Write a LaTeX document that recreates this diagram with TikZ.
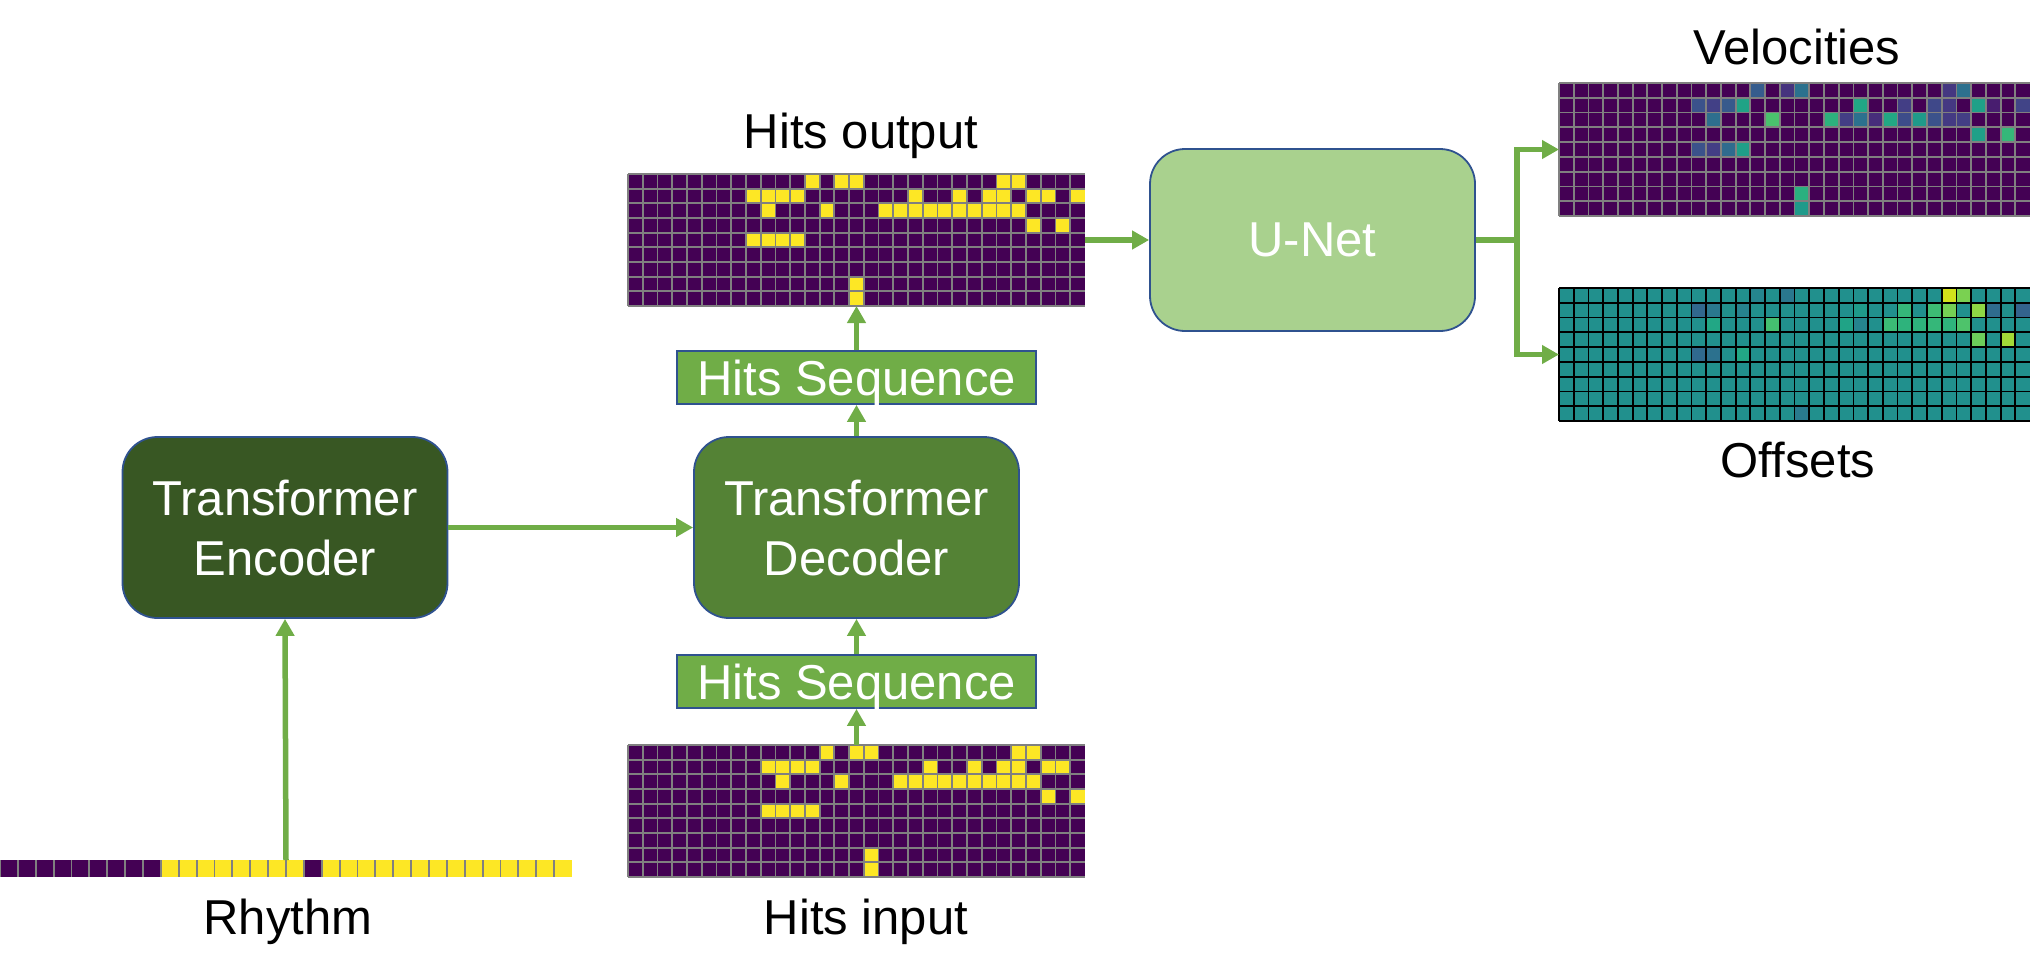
\documentclass[tikz,border=0pt]{standalone}
\usepackage{fontspec}
\setmainfont{Liberation Sans}
\usetikzlibrary{arrows.meta}

\definecolor{encgreen}{HTML}{385723}
\definecolor{decgreen}{HTML}{548235}
\definecolor{seqgreen}{HTML}{70AD47}
\definecolor{unetgreen}{HTML}{A9D18E}
\definecolor{boxblue}{HTML}{2F528F}
\definecolor{hitpurple}{HTML}{440154}
\definecolor{hityellow}{HTML}{FDE725}
\definecolor{offteal}{HTML}{21908D}
\definecolor{cellgray}{HTML}{808080}

\begin{document}
\begin{tikzpicture}[x=1pt, y=-1pt,
    netbox/.style={draw=boxblue, line width=1.8pt, rounded corners=35pt,
        minimum width=325pt, minimum height=181pt, text=white, align=center,
        font=\fontsize{49}{60}\selectfont, text depth=0pt},
    seqbox/.style={draw=boxblue, line width=1.8pt, fill=seqgreen,
        minimum width=359pt, minimum height=53pt, inner sep=0pt, text=white,
        font=\fontsize{49}{60}\selectfont, text depth=0pt},
    gridbox/.style={inner sep=0pt, outer sep=0pt, anchor=north west},
    gridtitle/.style={anchor=base, font=\fontsize{49}{60}\selectfont},
    cellline/.style={draw=cellgray, line width=1.8pt},
    flow/.style={draw=seqgreen, line width=5.5pt, -{Triangle[length=17pt, width=18pt]}}]

    \useasboundingbox (0,0) rectangle (2030,975);

    % Network blocks
    \node[netbox, fill=encgreen] (enc) at (285,527.5) {Transformer\\Encoder};
    \node[netbox, fill=decgreen] (dec) at (856.5,527.5) {Transformer\\Decoder};
    \node[netbox, fill=unetgreen, minimum height=182pt] (unet) at (1312.5,240) {U-Net};
    \node[seqbox] (seqout) at (856.5,377.5) {Hits Sequence};
    \node[seqbox] (seqin) at (856.5,681.5) {Hits Sequence};

    % Matrices (placeholders for connectors)
    \node[gridbox, minimum width=457pt, minimum height=132pt] (hitsout) at (628,174) {};
    \node[gridbox, minimum width=457pt, minimum height=132pt] (hitsin) at (628,745) {};
    \node[gridbox, minimum width=471pt, minimum height=133pt] (vel) at (1559,83) {};
    \node[gridbox, minimum width=471pt, minimum height=133pt] (off) at (1559,288) {};
    \node[gridbox, minimum width=572pt, minimum height=17pt] (rhythm) at (0,860) {};

    % Titles
    \node[gridtitle] (thitsout) at (861,148) {Hits output};
    \node[gridtitle] (thitsin) at (866,934) {Hits input};
    \node[gridtitle] (trhythm) at (288,934) {Rhythm};
    \node[gridtitle] (tvel) at (1797,64) {Velocities};
    \node[gridtitle] (toff) at (1798,477) {Offsets};

    % Hits output
    \begin{scope}[shift={(hitsout.north west)}, x=14.74pt, y=-14.67pt]
        \fill[hitpurple] (0,0) rectangle (31,9);
        \foreach \c/\r in {12/0,14/0,15/0,25/0,26/0,
                8/1,9/1,10/1,11/1,19/1,22/1,24/1,25/1,27/1,28/1,30/1,
                9/2,13/2,17/2,18/2,19/2,20/2,21/2,22/2,23/2,24/2,25/2,26/2,
                27/3,29/3, 8/4,9/4,10/4,11/4, 15/7,15/8}
            \fill[hityellow] (\c,\r) rectangle ++(1,1);
        \foreach \c in {0,...,30} \draw[cellline] (\c,0) -- (\c,9);
        \foreach \r in {0,...,9} \draw[cellline] (0,\r) -- (31,\r);
    \end{scope}

    % Hits input
    \begin{scope}[shift={(hitsin.north west)}, x=14.74pt, y=-14.67pt]
        \fill[hitpurple] (0,0) rectangle (31,9);
        \foreach \c/\r in {13/0,15/0,16/0,26/0,27/0,
                9/1,10/1,11/1,12/1,20/1,23/1,25/1,26/1,28/1,29/1,
                10/2,14/2,18/2,19/2,20/2,21/2,22/2,23/2,24/2,25/2,26/2,27/2,
                28/3,30/3, 9/4,10/4,11/4,12/4, 16/7,16/8}
            \fill[hityellow] (\c,\r) rectangle ++(1,1);
        \foreach \c in {0,...,30} \draw[cellline] (\c,0) -- (\c,9);
        \foreach \r in {0,...,9} \draw[cellline] (0,\r) -- (31,\r);
    \end{scope}

    % Velocities
    \begin{scope}[shift={(vel.north west)}, x=14.72pt, y=-14.78pt]
        \fill[hitpurple] (0,0) rectangle (32,9);
        \foreach \c/\r/\h in {13/0/365C8D,15/0/46337E,16/0/2C718E,26/0/453781,27/0/2D708E,
                9/1/3B528B,10/1/424086,11/1/375A8C,12/1/20A386,20/1/21A685,23/1/433E85,
                25/1/3F4889,26/1/453882,28/1/1FA088,29/1/481D6F,31/1/414487,
                10/2/2E6F8E,14/2/4AC16D,18/2/2DB27D,19/2/433E85,20/2/2C718E,21/2/472D7B,
                22/2/22A884,23/2/3D4D8A,24/2/1F9A8A,25/2/3B528B,26/2/443A83,27/2/433E85,
                28/3/1FA088,30/3/35B779,
                9/4/3B528B,10/4/433E85,11/4/2F6B8E,12/4/1F9F88,
                16/7/2AB07F,16/8/1F9A8A}
            {\definecolor{cellfill}{HTML}{\h}\fill[cellfill] (\c,\r) rectangle ++(1,1);}
        \foreach \c in {0,...,31} \draw[cellline] (\c,0) -- (\c,9);
        \foreach \r in {0,...,9} \draw[cellline] (0,\r) -- (32,\r);
    \end{scope}

    % Offsets
    \begin{scope}[shift={(off.north west)}, x=14.72pt, y=-14.78pt]
        \fill[offteal] (0,0) rectangle (32,9);
        \foreach \c/\r/\h in {13/0/25858E,15/0/2A788E,26/0/D2E21B,27/0/7AD151,
                9/1/31688E,10/1/2A788E,12/1/26828E,20/1/1F9A8A,23/1/35B779,25/1/3DBC74,
                26/1/75D054,28/1/8FD744,29/1/2F6C8E,31/1/33638D,
                10/2/22A785,14/2/44BF70,19/2/20A386,20/2/25848E,22/2/3BBB75,23/2/2EB37C,
                24/2/2EB37C,25/2/35B779,26/2/2FB47C,27/2/4EC36B,
                28/3/6CCD5A,30/3/A2DA37,
                9/4/30698E,10/4/2C718E,12/4/22A785,
                16/8/297A8E}
            {\definecolor{cellfill}{HTML}{\h}\fill[cellfill] (\c,\r) rectangle ++(1,1);}
        \foreach \c in {0,...,31} \draw[cellline, draw=black] (\c,0) -- (\c,9);
        \foreach \r in {0,...,9} \draw[cellline, draw=black] (0,\r) -- (32,\r);
    \end{scope}

    % Rhythm
    \begin{scope}[shift={(rhythm.north west)}, x=17.875pt, y=-17pt]
        \fill[hityellow] (0,0) rectangle (32,1);
        \foreach \c in {0,...,8,17} \fill[hitpurple] (\c,0) rectangle ++(1,1);
        \foreach \c in {0,...,31} \draw[cellline] (\c,0) -- (\c,1);
    \end{scope}

    % Connectors
    \coordinate (split) at (1517,240);
    \draw[flow] (rhythm.north) -- (enc.south);
    \draw[flow] (enc.east) -- (dec.west);
    \draw[flow] (hitsin.north) -- (seqin.south);
    \draw[flow] (seqin.north) -- (dec.south);
    \draw[flow] (dec.north) -- (seqout.south);
    \draw[flow] (seqout.north) -- (hitsout.south);
    \draw[flow] (hitsout.east) -- (unet.west);
    \draw[draw=seqgreen, line width=5.5pt] (unet.east) -- (split);
    \draw[flow] (split) |- (vel.west);
    \draw[flow] (split) |- (off.west);
\end{tikzpicture}
\end{document}
